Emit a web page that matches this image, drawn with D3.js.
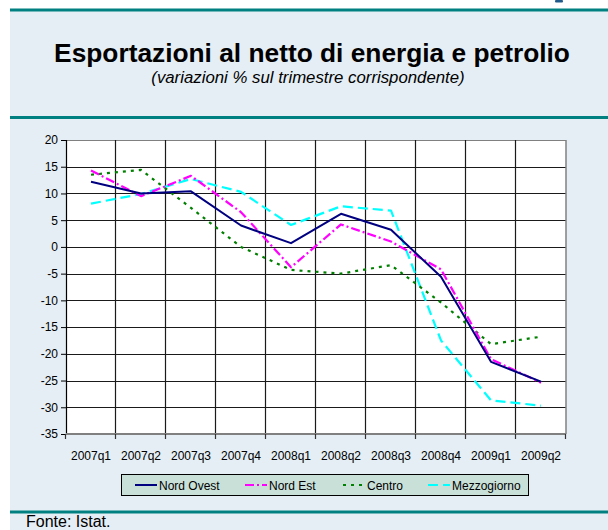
<!DOCTYPE html>
<html>
<head>
<meta charset="utf-8">
<script src="https://cdn.jsdelivr.net/npm/d3@7"></script>
<style>
  html, body { margin: 0; padding: 0; background: #ffffff; }
  svg { display: block; font-family: "Liberation Sans", Arial, sans-serif; }
</style>
</head>
<body>
<svg id="chart" width="608" height="530"></svg>
<script>
// ---- data ----
const categories = ["2007q1","2007q2","2007q3","2007q4","2008q1","2008q2","2008q3","2008q4","2009q1","2009q2"];
const nordOvest   = [12.2, 10.0, 10.4, 4.0, 0.7, 6.2, 3.2, -5.6, -21.5, -25.2];
const nordEst     = [14.3, 9.5, 13.3, 6.5, -3.8, 4.2, 1.0, -4.2, -21.0, -25.4];
const centro      = [13.5, 14.4, 7.3, 0.0, -4.3, -5.0, -3.4, -10.4, -18.2, -16.8];
const mezzogiorno = [8.1, 9.9, 12.7, 10.3, 4.1, 7.6, 6.8, -17.5, -28.7, -29.7];
const seriesNames = ["Nord Ovest", "Nord Est", "Centro", "Mezzogiorno"];
const yTicks = [20, 15, 10, 5, 0, -5, -10, -15, -20, -25, -30, -35];
const titleText = "Esportazioni al netto di energia e petrolio";
const subtitleText = "(variazioni % sul trimestre corrispondente)";
const sourceText = "Fonte: Istat.";

const seriesData = [nordOvest, nordEst, centro, mezzogiorno];
const colors = ["#000080", "#ff00ff", "#008000", "#00ffff"];
const dashes = [null, "9,3,2,3", "3,5", "10,5"];

const svg = d3.select("#chart");

// background panel
svg.append("rect").attr("x", 10).attr("y", 10).attr("width", 598).attr("height", 520).attr("fill", "#e5eef4");
svg.append("rect").attr("x", 10).attr("y", 8.5).attr("width", 598).attr("height", 3).attr("fill", "#008080");
svg.append("rect").attr("x", 10).attr("y", 116).attr("width", 598).attr("height", 3).attr("fill", "#008080");
svg.append("rect").attr("x", 10).attr("y", 510.5).attr("width", 598).attr("height", 3).attr("fill", "#008080");
// small partial glyph at top right
svg.append("rect").attr("x", 555).attr("y", 0).attr("width", 8).attr("height", 2.5).attr("rx", 1).attr("fill", "#1f5a8a");

// titles
svg.append("text").attr("x", 312).attr("y", 62).attr("text-anchor", "middle")
  .attr("font-size", 26.3).attr("font-weight", "bold").attr("fill", "#000").text(titleText);
svg.append("text").attr("x", 308).attr("y", 83).attr("text-anchor", "middle")
  .attr("font-size", 16.8).attr("font-style", "italic").attr("fill", "#000").text(subtitleText);
svg.append("text").attr("x", 26).attr("y", 526.5)
  .attr("font-size", 16).attr("fill", "#000").text(sourceText);

// scales
const x = d3.scaleBand().domain(categories).range([66, 566]);
const y = d3.scaleLinear().domain([-35, 20]).range([434, 140]);

// plot area
svg.append("rect").attr("x", 66).attr("y", 140).attr("width", 500).attr("height", 294).attr("fill", "#ffffff");

// horizontal gridlines
svg.append("g").selectAll("line").data(yTicks).join("line")
  .attr("x1", 66).attr("x2", 566)
  .attr("y1", d => Math.round(y(d)) + 0.5).attr("y2", d => Math.round(y(d)) + 0.5)
  .attr("stroke", d => d === 20 ? "#808080" : "#1a1a1a").attr("stroke-width", 1.2);

// vertical gridlines at band boundaries
const bounds = categories.slice(1).map(c => x(c));
svg.append("g").selectAll("line").data(bounds).join("line")
  .attr("x1", d => Math.round(d) - 0.5).attr("x2", d => Math.round(d) - 0.5)
  .attr("y1", 140).attr("y2", 434)
  .attr("stroke", "#1a1a1a").attr("stroke-width", 1.2);

// right border
svg.append("line").attr("x1", 566).attr("x2", 566).attr("y1", 140).attr("y2", 434)
  .attr("stroke", "#808080").attr("stroke-width", 1.5);

// y axis
const yAxis = d3.axisLeft(y).tickValues(yTicks).tickSize(5).tickPadding(4).tickFormat(d => String(d));
const gy = svg.append("g").attr("transform", "translate(66,0)").call(yAxis);
gy.select(".domain").attr("stroke", "#000").attr("stroke-width", 1.2);
gy.selectAll(".tick line").attr("stroke", "#000");
gy.selectAll("text").attr("font-size", 12).attr("fill", "#000")
  .attr("font-family", "'Liberation Sans', Arial, sans-serif");
gy.selectAll(".tick text").attr("x", -8);

// x axis
const xAxis = d3.axisBottom(x).tickSize(0).tickPadding(17);
const gx = svg.append("g").attr("transform", "translate(0,434)").call(xAxis);
gx.select(".domain").remove();
gx.selectAll("text").attr("font-size", 12).attr("fill", "#000")
  .attr("font-family", "'Liberation Sans', Arial, sans-serif");
svg.append("line").attr("x1", 66).attr("x2", 566).attr("y1", 434).attr("y2", 434)
  .attr("stroke", "#808080").attr("stroke-width", 2);
const tickBounds = categories.map(c => x(c)).concat([x.range()[1]]);
svg.append("g").selectAll("line").data(tickBounds).join("line")
  .attr("x1", d => Math.round(d) - 0.5).attr("x2", d => Math.round(d) - 0.5)
  .attr("y1", 434).attr("y2", 439).attr("stroke", "#333").attr("stroke-width", 1.2);

// lines
const line = d3.line()
  .x((d, i) => x(categories[i]) + x.bandwidth() / 2)
  .y(d => y(d));

const order = [3, 2, 1, 0];
order.forEach(k => {
  svg.append("path").datum(seriesData[k])
    .attr("d", line)
    .attr("fill", "none")
    .attr("stroke", colors[k])
    .attr("stroke-width", k === 0 ? 2 : 2.2)
    .attr("stroke-dasharray", dashes[k])
    .attr("stroke-linejoin", "round");
});

// legend
const lg = svg.append("g");
lg.append("rect").attr("x", 121.5).attr("y", 474.5).attr("width", 407).attr("height", 21)
  .attr("fill", "#c9e0d8").attr("stroke", "#000").attr("stroke-width", 1);
const legendX = [135, 245, 343, 428];
seriesNames.forEach((name, k) => {
  lg.append("line").attr("x1", legendX[k]).attr("x2", legendX[k] + 22)
    .attr("y1", 485).attr("y2", 485)
    .attr("stroke", colors[k]).attr("stroke-width", 2)
    .attr("stroke-dasharray", dashes[k]);
  lg.append("text").attr("x", legendX[k] + 24).attr("y", 489.5)
    .attr("font-size", 12).attr("fill", "#000").text(name);
});
</script>
</body>
</html>
